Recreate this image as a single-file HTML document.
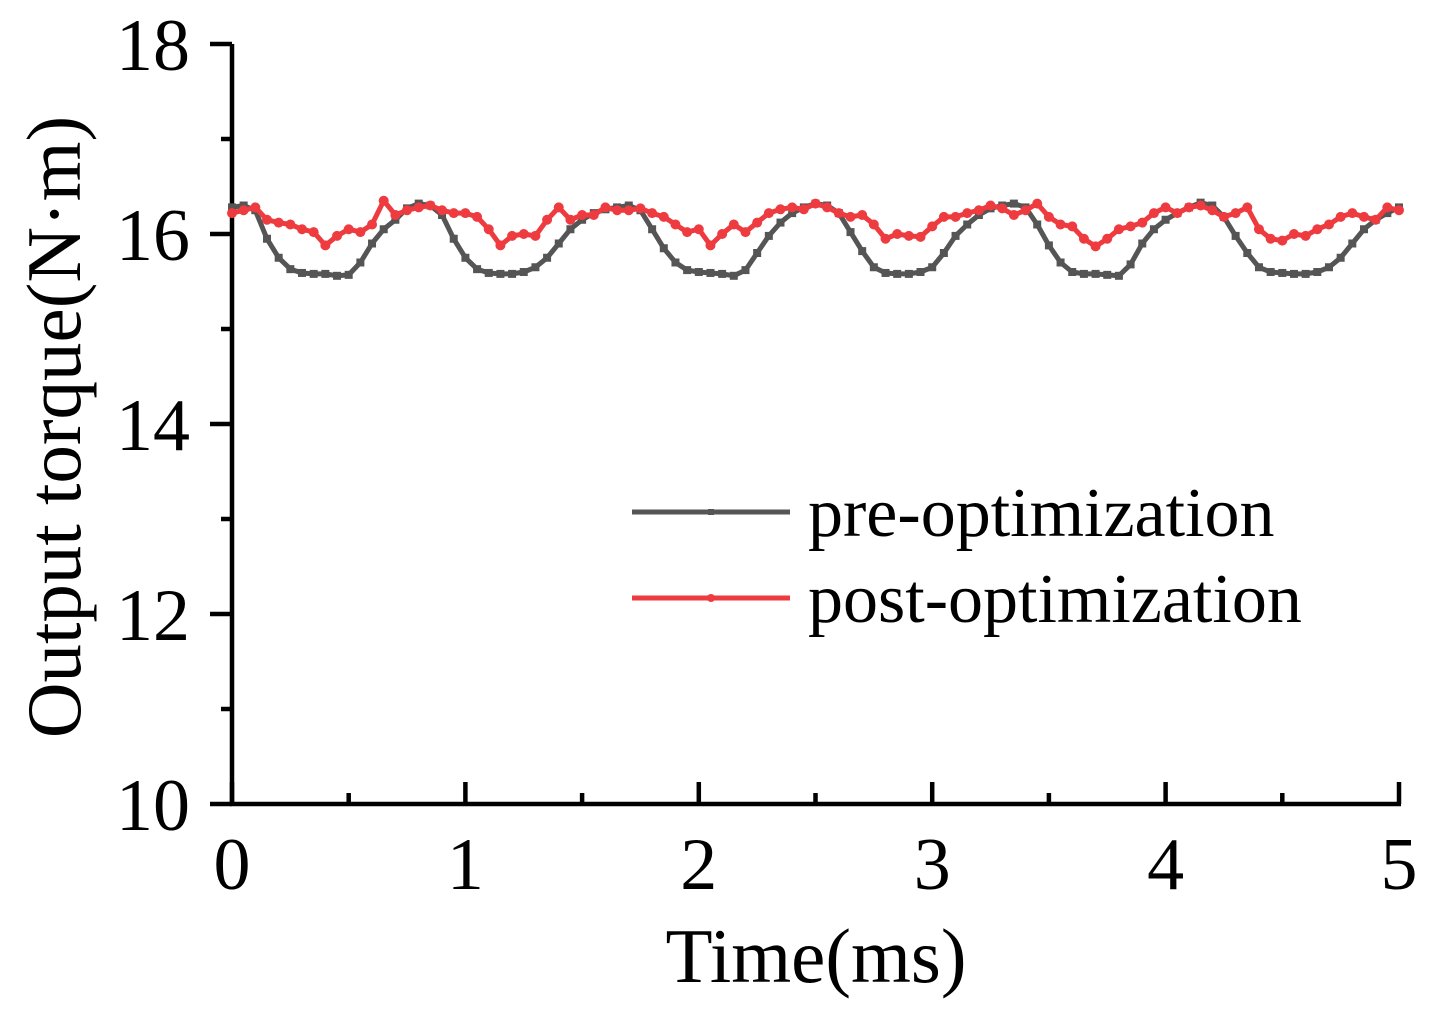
<!DOCTYPE html>
<html><head><meta charset="utf-8"><style>
html,body{margin:0;padding:0;background:#fff;}
svg{display:block;font-family:"Liberation Serif",serif;}
</style></head><body>
<svg id="chart" width="1446" height="1013" viewBox="0 0 1446 1013" xmlns="http://www.w3.org/2000/svg">
<g id="axes"></g>
<g id="series"></g>
<g id="legend">
  <line x1="632" y1="512" x2="790" y2="512" stroke="#555" stroke-width="5"/>
  <rect x="708" y="509" width="6" height="6" fill="#555"/>
  <text x="808" y="536" font-size="70">pre-optimization</text>
  <line x1="632" y1="598" x2="790" y2="598" stroke="#ee3b3f" stroke-width="5"/>
  <circle cx="711" cy="598" r="4" fill="#ee3b3f"/>
  <text x="808" y="622" font-size="70">post-optimization</text>
</g>
<text x="816" y="982" font-size="77" text-anchor="middle">Time(ms)</text>
<text transform="translate(80,427) rotate(-90)" font-size="77" text-anchor="middle">Output torque(N·m)</text>
</svg>
<script>
const xTicks = [0,1,2,3,4,5];
const yTicks = [10,12,14,16,18];
const timeStep = 0.05;
const preValues = [16.28,16.30,16.25,15.95,15.75,15.63,15.59,15.58,15.58,15.56,15.57,15.70,15.90,16.05,16.15,16.27,16.32,16.30,16.20,15.95,15.75,15.63,15.59,15.58,15.58,15.60,15.65,15.75,15.90,16.05,16.15,16.22,16.26,16.28,16.30,16.25,16.05,15.85,15.70,15.62,15.60,15.59,15.58,15.56,15.62,15.80,15.98,16.12,16.22,16.28,16.32,16.30,16.22,16.02,15.82,15.65,15.59,15.58,15.58,15.60,15.65,15.80,15.98,16.10,16.20,16.27,16.30,16.32,16.28,16.10,15.88,15.70,15.60,15.58,15.58,15.57,15.56,15.68,15.90,16.05,16.15,16.22,16.28,16.33,16.30,16.18,15.98,15.80,15.65,15.60,15.59,15.58,15.58,15.60,15.65,15.75,15.90,16.05,16.15,16.22,16.28];
const postValues = [16.22,16.25,16.28,16.15,16.12,16.10,16.05,16.02,15.88,15.98,16.05,16.02,16.10,16.35,16.20,16.25,16.28,16.30,16.25,16.22,16.22,16.18,16.05,15.88,15.98,16.00,15.98,16.15,16.28,16.15,16.20,16.20,16.28,16.25,16.25,16.27,16.22,16.18,16.10,16.02,16.05,15.88,16.00,16.10,16.02,16.12,16.22,16.26,16.28,16.26,16.32,16.28,16.22,16.18,16.20,16.10,15.95,16.00,15.98,15.97,16.08,16.18,16.18,16.22,16.25,16.30,16.27,16.20,16.25,16.32,16.18,16.10,16.08,15.95,15.87,15.95,16.05,16.08,16.12,16.22,16.28,16.22,16.28,16.30,16.25,16.18,16.22,16.28,16.05,15.95,15.93,16.00,15.98,16.05,16.10,16.18,16.22,16.18,16.15,16.28,16.25];

const NS = "http://www.w3.org/2000/svg";
const X0 = 232, X1 = 1399, Y0 = 804, Y1 = 44;
function xScale(t){ return X0 + (t - 0) / 5 * (X1 - X0); }
function yScale(v){ return Y0 - (v - 10) / 8 * (Y0 - Y1); }
function mk(tag, attrs, parent){ const e = document.createElementNS(NS, tag); for (const k in attrs) e.setAttribute(k, attrs[k]); parent.appendChild(e); return e; }

const axes = document.getElementById('axes');
let el = mk('line', {x1:X0, y1:Y1, x2:X0, y2:Y0+2, stroke:'#000','stroke-width':4.5}, axes);


el = mk('line', {x1:X0-2, y1:Y0, x2:X1+2, y2:Y0, stroke:'#000','stroke-width':4.5}, axes);



yTicks.forEach(v => {
  const y = yScale(v);
  const t = mk('line', {x1:X0-22, y1:y, x2:X0, y2:y, stroke:'#000','stroke-width':4.5}, axes);
  
  
  const lb = mk('text', {x:190, y:y+26, 'font-size':74, 'text-anchor':'end'}, axes);
  lb.textContent = v;
  
  
  if (v < 18) {
    const m = mk('line', {x1:X0-11, y1:yScale(v+1), x2:X0, y2:yScale(v+1), stroke:'#000','stroke-width':4.5}, axes);
    
    
  }
});
xTicks.forEach(v => {
  const x = xScale(v);
  const t = mk('line', {x1:x, y1:Y0, x2:x, y2:Y0-22, stroke:'#000','stroke-width':4.5}, axes);
  
  
  const lb = mk('text', {x:x, y:889, 'font-size':74, 'text-anchor':'middle'}, axes);
  lb.textContent = v;
  
  
  if (v < 5) {
    const m = mk('line', {x1:xScale(v+0.5), y1:Y0, x2:xScale(v+0.5), y2:Y0-11, stroke:'#000','stroke-width':4.5}, axes);
    
    
  }
});

const series = document.getElementById('series');
function drawSeries(vals, color, name, marker){
  const pts = vals.map((v,i) => xScale(i*timeStep).toFixed(1) + ',' + yScale(v).toFixed(1)).join(' ');
  const pl = mk('polyline', {points:pts, fill:'none', stroke:color, 'stroke-width':5, 'stroke-linejoin':'round'}, series);
  
  
  vals.forEach((v,i) => {
    const x = xScale(i*timeStep), y = yScale(v);
    let p;
    if (marker === 'square') p = mk('rect', {x:x-4, y:y-4, width:8, height:8, fill:color}, series);
    else p = mk('circle', {cx:x, cy:y, r:5, fill:color}, series);
    
    
  });
}
drawSeries(preValues, '#555555', 'pre-optimization', 'square');
drawSeries(postValues, '#ee3b3f', 'post-optimization', 'circle');
</script>
</body></html>
